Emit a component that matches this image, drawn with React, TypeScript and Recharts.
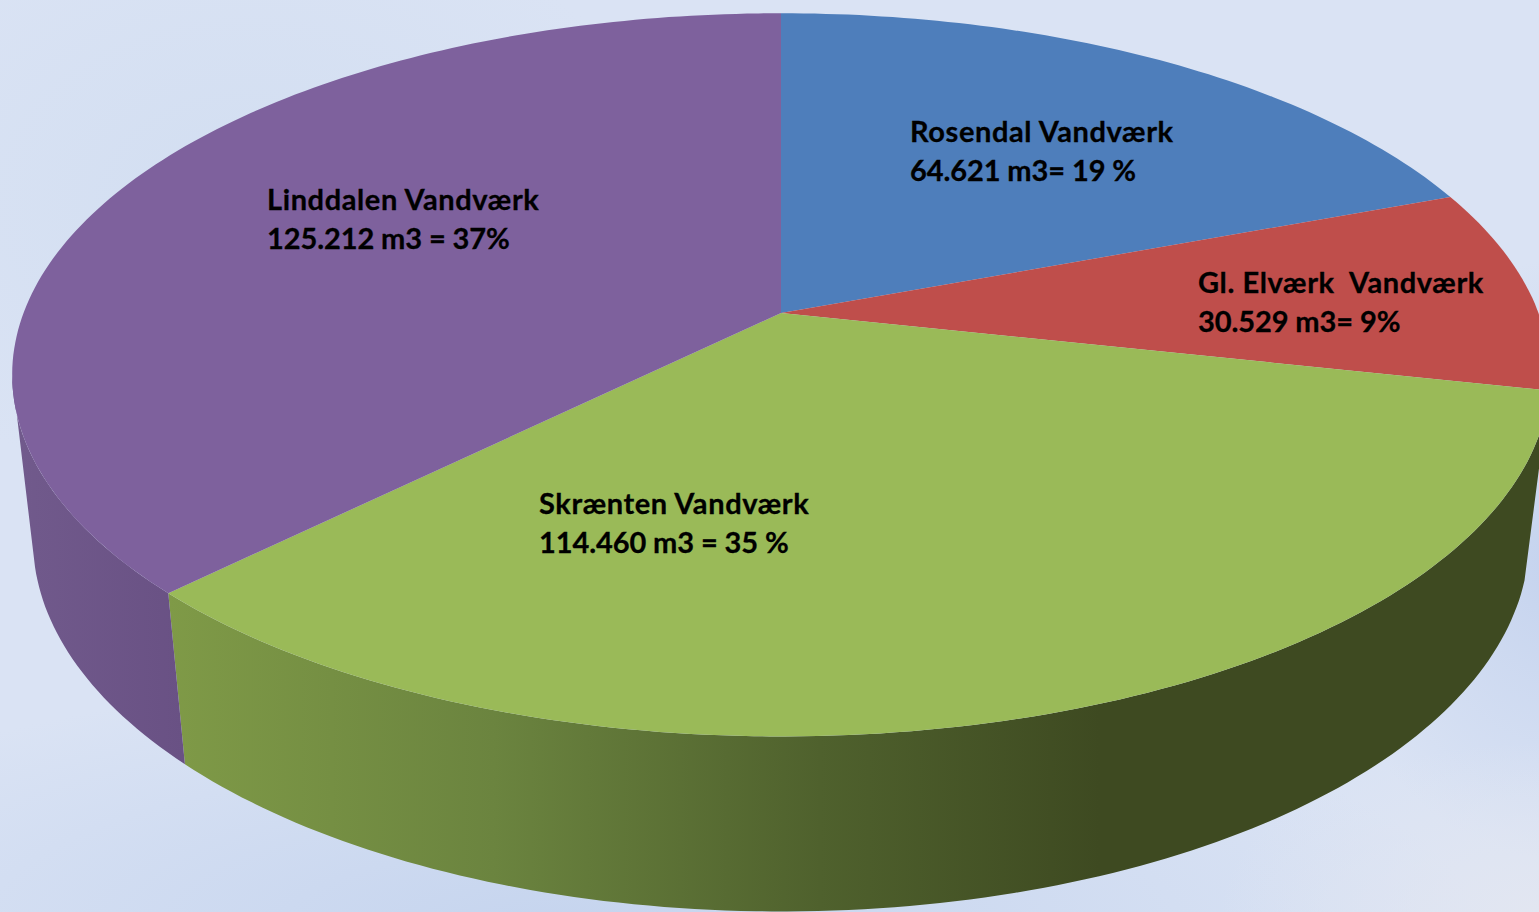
import { Pie, PieChart } from 'recharts';

const stations = ['Rosendal Vandværk', 'Gl. Elværk  Vandværk', 'Skrænten Vandværk', 'Linddalen Vandværk'];
const volumes = [64621, 30529, 114460, 125212];
const captions = ['64.621 m3= 19 %', '30.529 m3= 9%', '114.460 m3 = 35 %', '125.212 m3 = 37%'];
const topColors = ['#4e7ebb', '#bf4e4b', '#9aba58', '#7e619d'];
const sideFills = ['#3a5f8c', '#8e3b39', 'url(#greenSide)', 'url(#purpleSide)'];

const chartData = stations.map((name, i) => ({ name, value: volumes[i] }));

const WIDTH = 1539;
const HEIGHT = 912;
const CX = 781;

// tilted disc: a circle seen in perspective, one projection per face of the slab
const TOP_FACE = { a: 757.5, b: 351, cy: 313, k: 0.171 };
const BOTTOM_FACE = { a: 737, b: 361, cy: 476, k: 0.171 };

// where the wall stops being visible on each face (right side, left side)
const TOP_LIMITS = [-10, -170];
const BOTTOM_LIMITS = [-16, -166];

// label anchors, left edge and first baseline
const labelX = [910, 1198, 539, 267];
const labelY = [142, 293, 514, 210];

type Face = typeof TOP_FACE;

// recharts angle: counter clockwise from 3 o'clock
function project(face: Face, angle: number) {
  const rad = (angle * Math.PI) / 180;
  const u = Math.cos(rad);
  const v = Math.sin(rad);
  const w = 1 + face.k * v;
  return { x: CX + (face.a * u) / w, y: face.cy - (face.b * v) / w };
}

function arcPoints(face: Face, from: number, to: number) {
  const steps = Math.max(2, Math.ceil(Math.abs(to - from)));
  const pts = [];
  for (let i = 0; i <= steps; i++) {
    pts.push(project(face, from + ((to - from) * i) / steps));
  }
  return pts;
}

const toPath = (pts: { x: number; y: number }[]) =>
  pts.map((p, i) => `${i ? 'L' : 'M'}${p.x.toFixed(1)},${p.y.toFixed(1)}`).join(' ') + ' Z';

function TopSlice(props: any) {
  const pts = [{ x: CX, y: TOP_FACE.cy }, ...arcPoints(TOP_FACE, props.startAngle, props.endAngle)];
  return <path d={toPath(pts)} fill={topColors[props.index]} />;
}

// only the part of the wall facing the viewer gets drawn
function SideSlice(props: any) {
  const bottomStart = Math.min(props.startAngle, BOTTOM_LIMITS[0]);
  const bottomEnd = Math.max(props.endAngle, BOTTOM_LIMITS[1]);
  if (bottomEnd >= bottomStart) return null;
  const topStart = Math.min(props.startAngle, TOP_LIMITS[0]);
  const topEnd = Math.max(props.endAngle, TOP_LIMITS[1]);
  const top = arcPoints(TOP_FACE, topStart, topEnd);
  const bottom = arcPoints(BOTTOM_FACE, bottomEnd, bottomStart);
  return <path d={toPath([...top, ...bottom])} fill={sideFills[props.index]} />;
}

function SliceLabel(props: any) {
  const i = props.index;
  return (
    <text fontFamily="Lato" fontWeight={700} fontSize={29} fill="#000" stroke="#000" strokeWidth={0.3} style={{ whiteSpace: 'pre' }}>
      <tspan x={labelX[i]} y={labelY[i]} letterSpacing={0.6}>{stations[i]}</tspan>
      <tspan x={labelX[i]} y={labelY[i] + 39} letterSpacing={-0.1}>{captions[i]}</tspan>
    </text>
  );
}

export default function App() {
  return (
    <div
      style={{
        position: 'absolute',
        left: 0,
        top: 0,
        width: WIDTH,
        height: HEIGHT,
        overflow: 'hidden',
        background:
          'radial-gradient(ellipse 320px 170px at 1539px 912px, #e2e6f1 0%, rgba(226,230,241,0) 100%), radial-gradient(ellipse 900px 260px at 580px 930px, #c5d4ee 0%, rgba(197,212,238,0) 100%), radial-gradient(ellipse 240px 300px at 1560px 560px, #c5d3ee 0%, rgba(197,211,238,0) 100%), radial-gradient(ellipse 420px 300px at 250px 200px, #d2def1 0%, rgba(210,222,241,0) 100%), #dae3f4',
      }}
    >
      <PieChart width={WIDTH} height={HEIGHT} margin={{ top: 0, right: 0, bottom: 0, left: 0 }}>
        <defs>
          <linearGradient id="greenSide" gradientUnits="userSpaceOnUse" x1={168} y1={0} x2={1100} y2={0}>
            <stop offset="0" stopColor="#7f9a47" />
            <stop offset="0.35" stopColor="#6b843f" />
            <stop offset="0.7" stopColor="#4f612d" />
            <stop offset="1" stopColor="#3e4a21" />
          </linearGradient>
          <linearGradient id="purpleSide" gradientUnits="userSpaceOnUse" x1={14} y1={0} x2={184} y2={0}>
            <stop offset="0" stopColor="#715a8c" />
            <stop offset="1" stopColor="#695184" />
          </linearGradient>
        </defs>
        <Pie
          data={chartData}
          dataKey="value"
          nameKey="name"
          cx={CX}
          cy={TOP_FACE.cy}
          outerRadius={300}
          startAngle={90}
          endAngle={-270}
          stroke="none"
          isAnimationActive={false}
          shape={SideSlice}
        />
        <Pie
          data={chartData}
          dataKey="value"
          nameKey="name"
          cx={CX}
          cy={TOP_FACE.cy}
          outerRadius={300}
          startAngle={90}
          endAngle={-270}
          stroke="none"
          isAnimationActive={false}
          shape={TopSlice}
          label={SliceLabel}
          labelLine={false}
        />
      </PieChart>
    </div>
  );
}
